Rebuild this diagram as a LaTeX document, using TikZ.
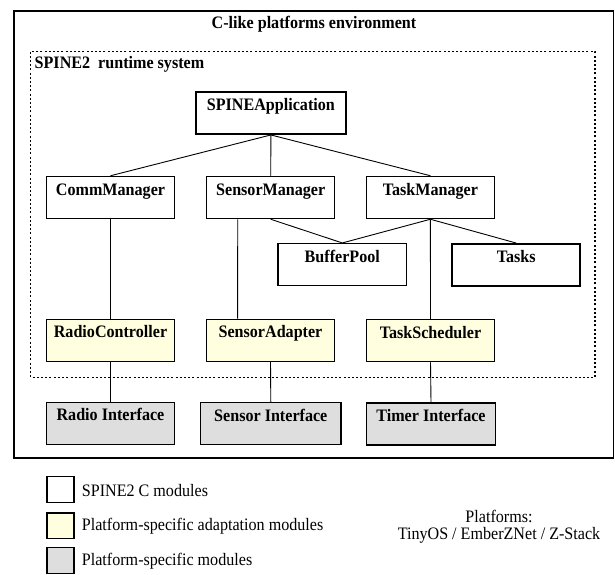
\documentclass[tikz,border=0pt]{standalone}
\usepackage{fontspec}
\setmainfont{Liberation Serif}[FakeStretch=0.92]
\definecolor{adapty}{RGB}{255,255,224}
\definecolor{platg}{RGB}{222,222,222}
\tikzset{
  modbox/.style={draw=black, line width=1.5pt, fill=white, inner sep=0pt,
    minimum width=128pt, minimum height=42pt, text height=18.5pt, text depth=23.5pt,
    font=\fontsize{17.5}{20}\selectfont\bfseries},
  adaptbox/.style={modbox, fill=adapty},
  platbox/.style={modbox, fill=platg},
  conn/.style={draw=black, line width=0.9pt},
  legbox/.style={draw=black, line width=1.3pt, inner sep=0pt, minimum width=27pt, minimum height=25.6pt},
  legtext/.style={anchor=west, inner sep=0pt, font=\fontsize{17.5}{20}\selectfont},
}
\begin{document}
\begin{tikzpicture}[x=1pt,y=1pt]
\useasboundingbox (0,0) rectangle (615,574);
% outer environment box
\draw[line width=1.8pt] (14,574-11) rectangle (613.5,574-458.3);
\node[inner sep=0pt, font=\fontsize{17.5}{20}\selectfont\bfseries] (envtitle) at (314,574-24) {C-like platforms environment};
% runtime dotted box
\draw[line width=1.4pt, dash pattern=on 2pt off 2.2pt] (30.7,574-51.7) rectangle (595,574-377.3);
\node[anchor=west, inner sep=0pt, font=\fontsize{17.5}{20}\selectfont\bfseries] (rttitle) at (34.5,574-64) {SPINE2~ runtime system};
% modules
\node[modbox, minimum width=149.7pt] (app) at (270.9,574-113.2) {SPINEApplication};
\node[modbox] (comm) at (110.5,574-197.5) {CommManager};
\node[modbox] (sm) at (270.7,574-197.5) {SensorManager};
\node[modbox] (tm) at (430.4,574-197.5) {TaskManager};
\node[modbox, minimum width=128.7pt] (bp) at (342.3,574-264.7) {BufferPool};
\node[modbox] (tasks) at (516.2,574-264.8) {Tasks};
\node[adaptbox] (rc) at (110.5,574-340.4) {RadioController};
\node[adaptbox] (sa) at (270.5,574-340.4) {SensorAdapter};
\node[adaptbox] (ts) at (430.5,574-340.5) {TaskScheduler};
\node[platbox] (ri) at (110.5,574-423.3) {Radio Interface};
\node[platbox, minimum width=140.3pt] (si) at (270.8,574-423.6) {Sensor Interface};
\node[platbox, minimum width=128.6pt] (ti) at (431,574-424) {Timer Interface};
% connectors
\draw[conn] (app.south) -- (comm.north);
\draw[conn] (app.south) -- (sm.north);
\draw[conn] (app.south) -- (tm.north);
\draw[conn] (sm.south) -- (bp.north);
\draw[conn] (tm.south) -- (bp.north);
\draw[conn] (tm.south) -- (tasks.north);
\draw[conn] (tm.south) -- (ts.north);
\draw[conn] (comm.south) -- (rc.north);
\draw[conn] ([xshift=31.8pt]sm.south west) -- ([xshift=31.8pt]sa.north west);
\draw[conn] (rc.south) -- (ri.north);
\draw[conn] (sa.south) -- (si.north);
\draw[conn] (ts.south) -- (ti.north);
% legend
\node[legbox, fill=white] (lg1) at (60.4,574-489.5) {};
\node[legbox, fill=adapty] (lg2) at (60.4,574-525.7) {};
\node[legbox, fill=platg] (lg3) at (60.4,574-560.5) {};
\node[legtext] (lt1) at (81.7,574-490.5) {SPINE2 C modules};
\node[legtext] (lt2) at (81.7,574-526) {Platform-specific adaptation modules};
\node[legtext] (lt3) at (81.7,574-560.7) {Platform-specific modules};
\node[inner sep=0pt, align=center, font=\fontsize{17.5}{20}\selectfont] (plat) at (499,574-526.5) {Platforms:\\[-2.5pt]TinyOS / EmberZNet / Z-Stack};
\end{tikzpicture}
\end{document}
